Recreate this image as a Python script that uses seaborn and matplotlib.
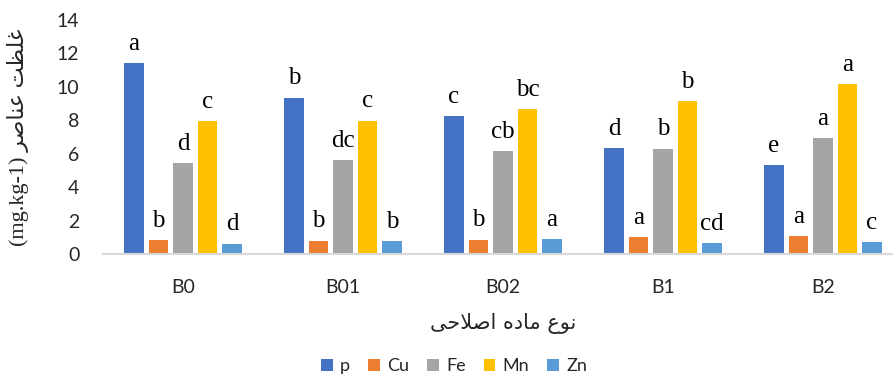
import pandas as pd
import seaborn as sns
import matplotlib.pyplot as plt

# data
treatments = ['B0', 'B01', 'B02', 'B1', 'B2']
elements = ['p', 'Cu', 'Fe', 'Mn', 'Zn']
p_vals = [11.4, 9.35, 8.25, 6.35, 5.3]
cu_vals = [0.83, 0.8, 0.85, 1.0, 1.08]
fe_vals = [5.45, 5.6, 6.15, 6.3, 6.95]
mn_vals = [7.95, 7.98, 8.65, 9.15, 10.15]
zn_vals = [0.62, 0.78, 0.88, 0.66, 0.72]

p_letters = ['a', 'b', 'c', 'd', 'e']
cu_letters = ['b', 'b', 'b', 'a', 'a']
fe_letters = ['d', 'dc', 'cb', 'b', 'a']
mn_letters = ['c', 'c', 'bc', 'b', 'a']
zn_letters = ['d', 'b', 'a', 'cd', 'c']

values = [p_vals, cu_vals, fe_vals, mn_vals, zn_vals]
letters = [p_letters, cu_letters, fe_letters, mn_letters, zn_letters]

rows = []
for el, vals in zip(elements, values):
    for t, v in zip(treatments, vals):
        rows.append({'treatment': t, 'element': el, 'value': v})
df = pd.DataFrame(rows)

colors = ['#4472C4', '#ED7D31', '#A5A5A5', '#FFC000', '#5B9BD5']

sns.set_style('white')
plt.rcParams['font.family'] = ['Lato', 'DejaVu Sans']

fig = plt.figure(figsize=(8.93, 3.76), dpi=100)
ax = fig.add_axes([103 / 893, 122 / 376, 800 / 893, 234 / 376])

sns.barplot(data=df, x='treatment', y='value', hue='element', palette=colors,
            width=0.765, gap=0.2, ax=ax, linewidth=0, saturation=1)

for cont, labs in zip(ax.containers, letters):
    ax.bar_label(cont, labels=labs, padding=6, fontsize=18,
                 family='Liberation Serif', color='black')

ax.set_ylim(0, 14)
ax.set_yticks(range(0, 15, 2))
ax.set_xlim(-0.5, 4.5)
for s in ['top', 'right', 'left']:
    ax.spines[s].set_visible(False)
ax.spines['bottom'].set_color('#D9D9D9')
ax.spines['bottom'].set_linewidth(1.5)
ax.tick_params(axis='y', length=0, pad=17, labelsize=14)
ax.tick_params(axis='x', length=0, pad=18, labelsize=14)

# Persian text written in presentation forms, visual order
ax.set_xlabel('ﯽﺣﻼﺻﺍ ﻩﺩﺎﻣ ﻉﻮﻧ', fontsize=15, family=['DejaVu Sans'], labelpad=12)
ax.set_ylabel('(mg.kg-1) ﺮﺻﺎﻨﻋ ﺖﻈﻠﻏ', fontsize=16,
              family=['Liberation Serif', 'DejaVu Sans'])
ax.yaxis.set_label_coords(-0.092, 0.5)

handles, labs = ax.get_legend_handles_labels()
ax.legend(handles, labs, loc='center', bbox_to_anchor=(454 / 893, 10 / 376),
          bbox_transform=fig.transFigure, ncol=5, frameon=False, fontsize=13,
          handlelength=0.65, handleheight=0.65, handletextpad=0.4, columnspacing=1.0)

fig.savefig('out.png', dpi=100)
